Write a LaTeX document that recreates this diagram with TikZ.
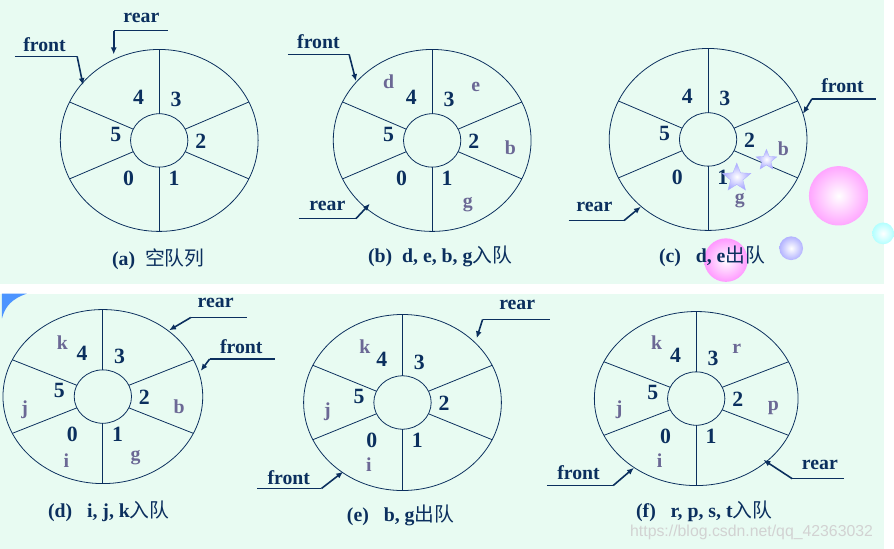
\documentclass[tikz,border=0pt]{standalone}
\usepackage{fontspec}
\setmainfont{Liberation Serif}
\newfontfamily\cjk{Noto Sans CJK SC}
\newfontfamily\wm{Liberation Sans}
\usetikzlibrary{shapes.geometric,shadings,arrows.meta}
\definecolor{navy}{HTML}{0B2F5E}
\definecolor{lett}{HTML}{6B6895}
\definecolor{bg}{HTML}{E8FBF2}
\tikzset{
  num/.style={font=\bfseries\fontsize{22}{22}\selectfont,text=navy},
  let/.style={font=\bfseries\fontsize{20}{20}\selectfont,text=lett},
  ptr/.style={font=\bfseries\fontsize{20}{20}\selectfont,text=navy,inner sep=1pt},
  captxt/.style={font=\bfseries\fontsize{20}{20}\selectfont,text=navy},
  ln/.style={draw=navy,line width=0.8pt},
  pl/.style={draw=navy,line width=1.6pt},
  arr/.style={draw=navy,line width=1.6pt,-{Latex[length=7pt,width=6pt]}}
}
\newcommand{\ring}[5]{% cx cy rx ry name
  \begin{scope}[shift={(#1,#2)}]
  \coordinate (#5) at (0,0);
  \draw[ln] (0,0) ellipse [x radius=#3,y radius=#4];
  \draw[ln] (0,0) ellipse [x radius=29,y radius=27];
  \foreach \a in {90,270,25,155,205,335}{
    \draw[ln] ({29*cos(\a)},{27*sin(\a)}) -- ({#3*cos(\a)},{#4*sin(\a)});}
  \node[num] at (-31,38) {0};
  \node[num] at (15,38) {1};
  \node[num] at (42,1) {2};
  \node[num] at (17,-41) {3};
  \node[num] at (-21,-44) {4};
  \node[num] at (-44,-6) {5};
  \end{scope}}
\begin{document}
\begin{tikzpicture}[x=1pt,y=-1pt]
\fill[bg] (0,0) rectangle (894,555);
\fill[white] (0,287) rectangle (894,297);
\fill[blue!60!cyan!70] (2,297) -- (27,297) .. controls (12,302) and (5,310) .. (2,322) -- cycle;
% watermark
\node[font=\wm\fontsize{16}{16}\selectfont,text=gray!35] at (760,538) {https://blog.csdn.net/qq\_42363032};
% (a)
\ring{161}{142}{100}{92}{ca}
\node[ptr] (fa) at (45,45) {front};
\draw[pl] (15,57) -- (78,57);
\coordinate (fae) at (84,86);
\draw[arr] (78,57) -- (fae);
\node[ptr] (ra) at (143,18) {rear};
\draw[pl] (115,31) -- (170,31);
\coordinate (rae) at (115,55);
\draw[arr] (115,31) -- (rae);
\node[captxt] at (160,262) {(a)\ \ {\cjk\mdseries 空队列}};
% (b)
\ring{437}{142}{100}{92}{cb}
\node[let] at (393,83) {d};
\node[let] at (481,88) {e};
\node[let] at (516,149) {b};
\node[let] at (473,207) {g};
\node[ptr] (fb) at (322,42) {front};
\draw[pl] (291,55) -- (353,55);
\coordinate (fbe) at (360,82);
\draw[arr] (353,55) -- (fbe);
\node[ptr] (rb) at (331,208) {rear};
\draw[pl] (302,221) -- (360,221);
\coordinate (rbe) at (374,206);
\draw[arr] (360,221) -- (rbe);
\node[captxt] at (445,259) {(b)\ \ d, e, b, g{\cjk\mdseries 入队}};
% (c)
\ring{716}{141}{100}{92}{cc}
\foreach \p/\s in {{(775,162)}/22,{(745,180)}/30}{
  \node[star,star points=5,star point ratio=2.3,minimum size=\s pt,inner sep=0pt,
        draw=blue!30,inner color=white,outer color=blue!35] at \p {};}
\node[let] at (792,150) {b};
\node[let] at (748,203) {g};
\shade[inner color=white,outer color=magenta!35] (848,198) circle (30);
\shade[inner color=white,outer color=cyan!30] (893,236) circle (11);
\shade[inner color=white,outer color=magenta!40] (734,263) circle (22);
\shade[inner color=white,outer color=blue!30] (800,251) circle (12);
\node[ptr] (fc) at (852,87) {front};
\draw[pl] (821,100) -- (886,100);
\coordinate (fce) at (812,115);
\draw[arr] (821,100) -- (fce);
\node[ptr] (rc) at (601,209) {rear};
\draw[pl] (575,223) -- (631,223);
\coordinate (rce) at (648,209);
\draw[arr] (631,223) -- (rce);
\node[captxt] at (720,259) {(c)\ \ \ d, e{\cjk\mdseries 出队}};
% (d)
\ring{104}{401}{101}{88}{cd}
\node[let] at (63,346) {k};
\node[let] at (25,414) {j};
\node[let] at (67,466) {i};
\node[let] at (181,411) {b};
\node[let] at (137,463) {g};
\node[ptr] (rd) at (218,306) {rear};
\draw[pl] (193,321) -- (250,321);
\coordinate (rde) at (171,334);
\draw[arr] (193,321) -- (rde);
\node[ptr] (fd) at (244,350) {front};
\draw[pl] (212,363) -- (278,363);
\coordinate (fde) at (203,375);
\draw[arr] (212,363) -- (fde);
\node[captxt] at (110,517) {(d)\ \ \ i, j, k{\cjk\mdseries 入队}};
% (e)
\ring{407}{407}{100}{89}{ce}
\node[let] at (369,351) {k};
\node[let] at (331,416) {j};
\node[let] at (373,470) {i};
\node[ptr] (re) at (523,308) {rear};
\draw[pl] (488,323) -- (556,323);
\coordinate (ree) at (482,342);
\draw[arr] (488,323) -- (ree);
\node[ptr] (fe) at (292,483) {front};
\draw[pl] (260,494) -- (325,494);
\coordinate (fee) at (347,477);
\draw[arr] (325,494) -- (fee);
\node[captxt] at (405,521) {(e)\ \ \ b, g{\cjk\mdseries 出队}};
% (f)
\ring{704}{403}{103}{88}{cf}
\node[let] at (664,346) {k};
\node[let] at (626,414) {j};
\node[let] at (667,466) {i};
\node[let] at (745,353) {r};
\node[let] at (782,412) {p};
\node[ptr] (ff) at (585,478) {front};
\draw[pl] (553,491) -- (620,491);
\coordinate (ffe) at (641,473);
\draw[arr] (620,491) -- (ffe);
\node[ptr] (rf) at (829,470) {rear};
\draw[pl] (801,484) -- (853,484);
\coordinate (rfe) at (772,465);
\draw[arr] (801,484) -- (rfe);
\node[captxt] at (712,517) {(f)\ \ \ r, p, s, t{\cjk\mdseries 入队}};
\end{tikzpicture}
\end{document}
